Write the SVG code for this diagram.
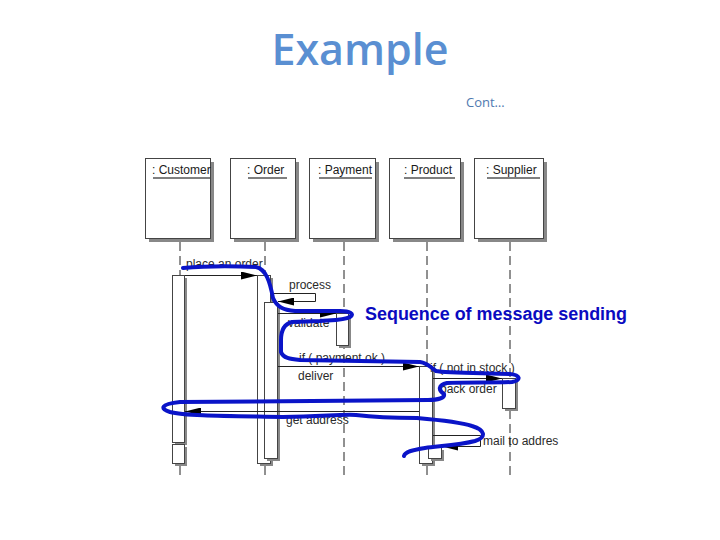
<svg xmlns="http://www.w3.org/2000/svg" width="720" height="540" viewBox="0 0 720 540">
<defs>
<marker id="ah" markerWidth="16" markerHeight="8" refX="16" refY="4" orient="auto" markerUnits="userSpaceOnUse">
<path d="M0,0 L16,4 L0,8 Z" fill="#000"/>
</marker>
</defs>
<style>
.box{fill:#fff;stroke:#444;stroke-width:1}
.shadow{fill:#888}
.bar{fill:#fff;stroke:#444;stroke-width:1}
.life{stroke:#222;stroke-width:1;stroke-dasharray:9 5}
.msg{stroke:#222;stroke-width:1;fill:none}
.lbl{font-family:"Liberation Sans",Arial,sans-serif;font-size:12px;fill:#2a2a2a}
.obj{font-family:"Liberation Sans",Arial,sans-serif;font-size:12px;fill:#1a1a1a}
.ul{stroke:#555;stroke-width:1.5}
.blue{fill:none;stroke:#0a14c8;stroke-width:4;stroke-linecap:round;stroke-linejoin:round}
</style>
<rect width="720" height="540" fill="#fff"/>
<text x="360" y="65" text-anchor="middle" font-family="'Open Sans',sans-serif" font-size="43" font-weight="600" fill="#5a8fd2">Example</text>
<text x="466" y="107" font-family="'Open Sans',sans-serif" font-size="13" fill="#4f79b0">Cont…</text>

<g id="lifelines">
<line class="life" x1="180" y1="242" x2="180" y2="480"/>
<line class="life" x1="265" y1="242" x2="265" y2="480"/>
<line class="life" x1="344" y1="242" x2="344" y2="480"/>
<line class="life" x1="427" y1="242" x2="427" y2="480"/>
<line class="life" x1="510" y1="242" x2="510" y2="480"/>
</g>

<g id="customer">
<rect class="shadow" x="149" y="162" width="65" height="80"/>
<rect class="box" x="145.5" y="158.5" width="65" height="80"/>
<text class="obj" x="152" y="174">: Customer</text>
<line class="ul" x1="153" y1="178" x2="210" y2="178"/>
</g>
<g id="order">
<rect class="shadow" x="234" y="162" width="65" height="80"/>
<rect class="box" x="230.5" y="158.5" width="65" height="80"/>
<text class="obj" x="247" y="174">: Order</text>
<line class="ul" x1="248" y1="178" x2="287" y2="178"/>
</g>
<g id="payment">
<rect class="shadow" x="313" y="162" width="66" height="80"/>
<rect class="box" x="309.5" y="158.5" width="66" height="80"/>
<text class="obj" x="318" y="174">: Payment</text>
<line class="ul" x1="319" y1="178" x2="372" y2="178"/>
</g>
<g id="product">
<rect class="shadow" x="393" y="162" width="71" height="80"/>
<rect class="box" x="389.5" y="158.5" width="71" height="80"/>
<text class="obj" x="404" y="174">: Product</text>
<line class="ul" x1="404" y1="178" x2="455" y2="178"/>
</g>
<g id="supplier">
<rect class="shadow" x="478" y="162" width="69" height="80"/>
<rect class="box" x="474.5" y="158.5" width="69" height="80"/>
<text class="obj" x="486" y="174">: Supplier</text>
<line class="ul" x1="487" y1="178" x2="540" y2="178"/>
</g>

<g id="activations">
<rect class="shadow" x="175" y="278" width="12" height="167"/>
<rect class="bar" x="172.5" y="275.5" width="12" height="167"/>
<rect class="shadow" x="175" y="447" width="12" height="19"/>
<rect class="bar" x="172.5" y="444.5" width="12" height="19"/>
<rect class="shadow" x="260" y="278" width="13" height="188"/>
<rect class="bar" x="257.5" y="275.5" width="13" height="188"/>
<rect class="shadow" x="267" y="305" width="13" height="156"/>
<rect class="bar" x="264.5" y="302.5" width="13" height="156"/>
<rect class="shadow" x="339" y="316" width="12" height="32"/>
<rect class="bar" x="336.5" y="313.5" width="12" height="32"/>
<rect class="shadow" x="422" y="369" width="13" height="97"/>
<rect class="bar" x="419.5" y="366.5" width="13" height="97"/>
<rect class="shadow" x="431" y="450" width="13" height="11"/>
<rect class="bar" x="428.5" y="447.5" width="13" height="11"/>
<rect class="shadow" x="505" y="381" width="13" height="30"/>
<rect class="bar" x="502.5" y="378.5" width="13" height="30"/>
</g>

<g id="connectors">
<line class="msg" x1="185" y1="275.5" x2="257" y2="275.5" marker-end="url(#ah)"/>
<polyline class="msg" points="271,293.5 315.5,293.5 315.5,301.5 278,301.5" marker-end="url(#ah)"/>
<line class="msg" x1="278" y1="313.5" x2="336" y2="313.5" marker-end="url(#ah)"/>
<line class="msg" x1="278" y1="366.5" x2="419" y2="366.5" marker-end="url(#ah)"/>
<line class="msg" x1="433" y1="378.5" x2="502" y2="378.5" marker-end="url(#ah)"/>
<line class="msg" x1="419" y1="411.5" x2="185" y2="411.5" marker-end="url(#ah)"/>
<polyline class="msg" points="433,435.5 480.5,435.5 480.5,446.5 442,446.5" marker-end="url(#ah)"/>
</g>

<g id="labels">
<text class="lbl" x="186" y="268">place an order</text>
<text class="lbl" x="289" y="289">process</text>
<text class="lbl" x="288" y="327">validate</text>
<text class="lbl" x="299" y="362">if ( payment ok )</text>
<text class="lbl" x="298" y="380">deliver</text>
<text class="lbl" x="430" y="372">if ( not in stock )</text>
<text class="lbl" x="440" y="393">back order</text>
<text class="lbl" x="286" y="424">get address</text>
<text class="lbl" x="483" y="445">mail to addres</text>
</g>

<path class="blue" d="M183,268 C205,266 235,266 256,267 C266,269 270,282 273,298 C277,307 283,310 295,311 L340,311 C350,311 355,314 350,317 C345,320 335,320 320,321 L292,322 C284,324 281,330 281,340 L281,352 C283,358 290,359 300,360 L420,362 C428,363 431,368 436,371 C445,373 480,373 510,374 C520,375 522,380 512,382 C495,383 465,382 447,383 C438,385 438,390 444,394 C445,398 438,400 428,400 L180,402 C160,404 160,409 170,412 C185,416 230,416 283,417 C320,417 340,414 356,415 C380,418 400,418 417,418 C440,420 460,422 472,426 C485,430 487,437 475,441 C460,445 440,446 425,448 C412,450 405,452 404,456"/>

<text x="365" y="320" font-family="'Liberation Sans',Arial,sans-serif" font-size="17.5" font-weight="bold" fill="#0a0ac0" textLength="262" lengthAdjust="spacingAndGlyphs">Sequence of message sending</text>
</svg>
